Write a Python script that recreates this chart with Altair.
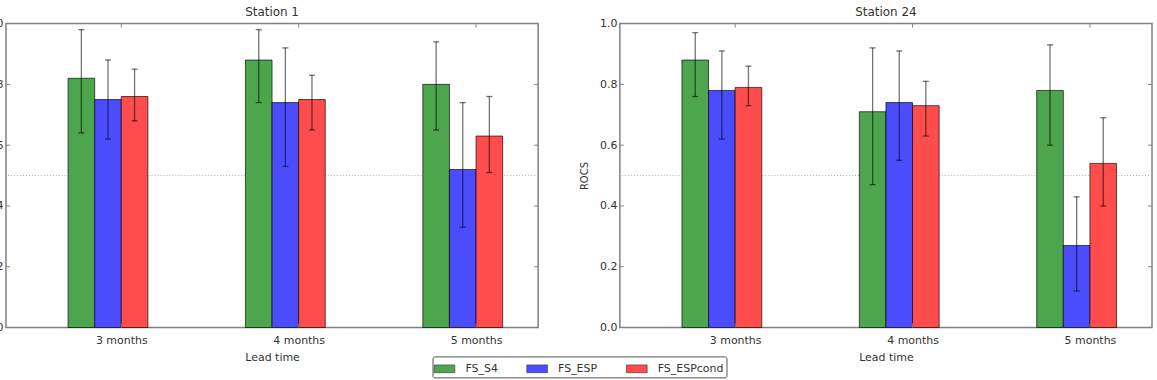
import altair as alt
import pandas as pd

# ---------------- data ----------------
months = ["3 months", "4 months", "5 months"]
models = ["FS_S4", "FS_ESP", "FS_ESPcond"]
colors = ["#4da64d", "#4c4cff", "#ff4c4c"]
y_ticks = [0.0, 0.2, 0.4, 0.6, 0.8, 1.0]
ref_line = 0.5

# Station 1
st1_s4 = [0.82, 0.88, 0.80]
st1_s4_lo = [0.64, 0.74, 0.65]
st1_s4_hi = [0.98, 0.98, 0.94]
st1_esp = [0.75, 0.74, 0.52]
st1_esp_lo = [0.62, 0.53, 0.33]
st1_esp_hi = [0.88, 0.92, 0.74]
st1_cond = [0.76, 0.75, 0.63]
st1_cond_lo = [0.68, 0.65, 0.51]
st1_cond_hi = [0.85, 0.83, 0.76]

# Station 24
st24_s4 = [0.88, 0.71, 0.78]
st24_s4_lo = [0.76, 0.47, 0.60]
st24_s4_hi = [0.97, 0.92, 0.93]
st24_esp = [0.78, 0.74, 0.27]
st24_esp_lo = [0.62, 0.55, 0.12]
st24_esp_hi = [0.91, 0.91, 0.43]
st24_cond = [0.79, 0.73, 0.54]
st24_cond_lo = [0.73, 0.63, 0.40]
st24_cond_hi = [0.86, 0.81, 0.69]

BAR_W = 0.15
CAP = 0.017
W, H = 534, 305
FONT = "DejaVu Sans"
TXT = "#333333"
FRAME = "#808080"


def build_df(vals, los, his):
    rows = []
    for k, model in enumerate(models):
        for i, m in enumerate(months):
            x0 = i + k * BAR_W
            xc = x0 + BAR_W / 2
            rows.append(dict(model=model, month=m, x0=x0, x1=x0 + BAR_W, xc=xc,
                             cl=xc - CAP, cr=xc + CAP,
                             v=vals[k][i], lo=los[k][i], hi=his[k][i]))
    return pd.DataFrame(rows)


tick_pos = [i + 2 * BAR_W for i in range(len(months))]
label_expr = " : ".join(
    f"datum.value < {p + 0.5} ? '{m}'" for p, m in zip(tick_pos[:-1], months[:-1])
) + f" : '{months[-1]}'"

xscale = alt.Scale(domain=[-0.35, 2.65], nice=False, zero=False)
yscale = alt.Scale(domain=[0, 1], nice=False)


def panel(title, df, y_title):
    base = alt.Chart(df)
    xax = alt.Axis(values=tick_pos, labelExpr=label_expr, ticks=False, domain=False,
                   grid=False, labelPadding=7, title="Lead time", titleFontSize=11,
                   titleFontWeight="normal", titlePadding=6, labelFontSize=11,
                   labelColor=TXT, titleColor=TXT, labelFont=FONT, titleFont=FONT)
    yax_kwargs = dict(values=y_ticks, format=".1f", ticks=False, domain=False, grid=False,
                      labelPadding=3, labelFontSize=11, labelColor=TXT, labelFont=FONT)
    if y_title:
        yax = alt.Axis(title=y_title, titleFontSize=10, titleFontWeight="normal",
                       titleColor=TXT, titlePadding=10, titleFont=FONT, **yax_kwargs)
    else:
        yax = alt.Axis(title=None, **yax_kwargs)

    legend = alt.Legend(orient="none", legendX=428, legendY=334, direction="horizontal",
                        title=None, strokeColor="#555555", padding=3, cornerRadius=2,
                        symbolType="M-1.2,-0.45H1.2V0.45H-1.2Z", symbolSize=300,
                        symbolStrokeColor="#333333", symbolStrokeWidth=0.6,
                        symbolOpacity=1, labelFontSize=11, labelFont=FONT,
                        labelColor=TXT, columnPadding=27, labelOffset=12,
                        symbolOffset=0)

    ref = alt.Chart(pd.DataFrame({"y": [ref_line]})).mark_rule(
        color="#aaaaaa", strokeDash=[1, 2], strokeWidth=1
    ).encode(y=alt.Y("y:Q", scale=yscale))

    bars = base.mark_bar(stroke="#000000", strokeOpacity=0.65, strokeWidth=1).encode(
        x=alt.X("x0:Q", scale=xscale, axis=xax),
        x2="x1:Q",
        y=alt.Y("v:Q", scale=yscale, axis=yax),
        y2=alt.datum(0),
        color=alt.Color("model:N", scale=alt.Scale(domain=models, range=colors),
                        legend=legend, sort=models),
    )
    err = base.mark_rule(color="#000000", opacity=0.55, strokeWidth=1.3).encode(
        x="xc:Q", y="lo:Q", y2="hi:Q")
    cap_lo = base.mark_rule(color="#000000", opacity=0.55, strokeWidth=1.3).encode(
        x="cl:Q", x2="cr:Q", y="lo:Q")
    cap_hi = base.mark_rule(color="#000000", opacity=0.55, strokeWidth=1.3).encode(
        x="cl:Q", x2="cr:Q", y="hi:Q")

    ydf = pd.DataFrame({"t": y_ticks[1:-1]})
    ytl = alt.Chart(ydf).mark_rule(color=FRAME, strokeWidth=1).encode(
        x=alt.value(0), x2=alt.value(4), y=alt.Y("t:Q", scale=yscale))
    ytr = alt.Chart(ydf).mark_rule(color=FRAME, strokeWidth=1).encode(
        x=alt.value(W - 4), x2=alt.value(W), y=alt.Y("t:Q", scale=yscale))
    xdf = pd.DataFrame({"t": tick_pos})
    xtt = alt.Chart(xdf).mark_rule(color=FRAME, strokeWidth=1).encode(
        x=alt.X("t:Q", scale=xscale), y=alt.value(0), y2=alt.value(4))
    xtb = alt.Chart(xdf).mark_rule(color=FRAME, strokeWidth=1).encode(
        x=alt.X("t:Q", scale=xscale), y=alt.value(H - 4), y2=alt.value(H))

    return alt.layer(ref, bars, err, cap_lo, cap_hi, ytl, ytr, xtt, xtb).properties(
        width=W, height=H,
        title=alt.TitleParams(title, fontSize=12, fontWeight="normal", color=TXT,
                              font=FONT, offset=-1, frame="group"),
    )


df1 = build_df([st1_s4, st1_esp, st1_cond],
               [st1_s4_lo, st1_esp_lo, st1_cond_lo],
               [st1_s4_hi, st1_esp_hi, st1_cond_hi])
df24 = build_df([st24_s4, st24_esp, st24_cond],
                [st24_s4_lo, st24_esp_lo, st24_cond_lo],
                [st24_s4_hi, st24_esp_hi, st24_cond_hi])

chart = alt.hconcat(
    panel("Station 1", df1, None),
    panel("Station 24", df24, "ROCS"),
    spacing=38,
).properties(
    padding={"left": -16, "top": 4, "right": 3, "bottom": 0},
    background="white",
).configure_view(stroke=FRAME, strokeWidth=1.5)

chart.save("out.html", embed_options={"renderer": "svg", "actions": False})
